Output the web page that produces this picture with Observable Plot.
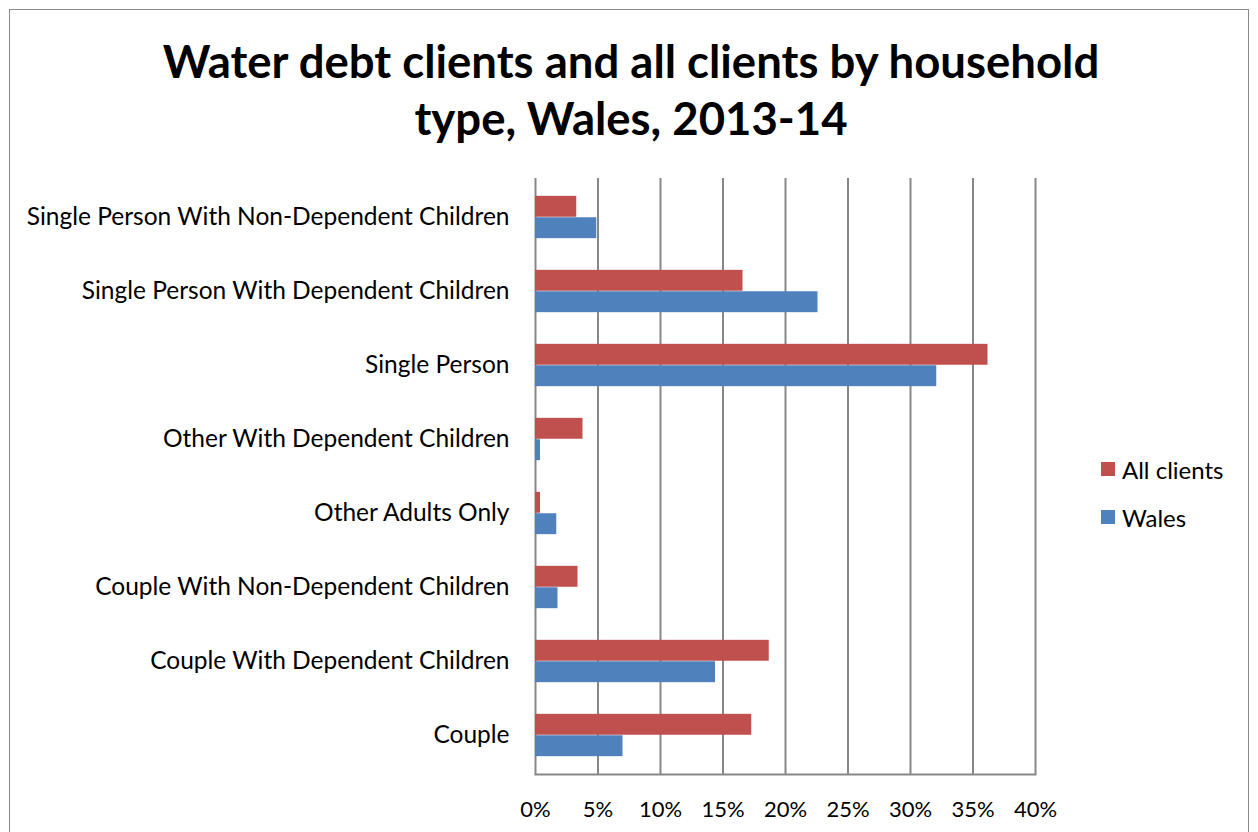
<!DOCTYPE html>
<html>
<head>
<meta charset="utf-8">
<script src="https://cdn.jsdelivr.net/npm/d3@7"></script>
<script src="https://cdn.jsdelivr.net/npm/@observablehq/plot@0.6"></script>
<style>
  html, body { margin: 0; padding: 0; background: #fff; }
  #wrap { position: relative; width: 1258px; height: 832px; overflow: hidden; font-family: Lato, "Open Sans", sans-serif; }
  #border { position: absolute; left: 9px; top: 9px; width: 1240px; height: 840px; border: 1.5px solid #8a8a8a; box-sizing: border-box; }
  #title { position: absolute; left: 0; width: 1262px; top: 32px; text-align: center; font-weight: bold; font-size: 45.5px; line-height: 57px; color: #000; }
  #chart { position: absolute; left: 0; top: 170px; }
  #legend { position: absolute; left: 1101px; top: 453px; font-size: 24px; color: #000; }
  .li { display: flex; align-items: center; height: 32px; margin-bottom: 16px; }
  .sw { width: 14px; height: 14px; margin-right: 7px; }
</style>
</head>
<body>
<div id="wrap">
  <div id="border"></div>
  <div id="title">Water debt clients and all clients by household<br>type, Wales, 2013-14</div>
  <div id="chart"></div>
  <div id="legend"></div>
</div>
<script>
const categories = [
  "Single Person With Non-Dependent Children",
  "Single Person With Dependent Children",
  "Single Person",
  "Other With Dependent Children",
  "Other Adults Only",
  "Couple With Non-Dependent Children",
  "Couple With Dependent Children",
  "Couple"
];
const allClients = [3.3, 16.6, 36.2, 3.8, 0.4, 3.4, 18.7, 17.3];
const wales = [4.9, 22.6, 32.1, 0.4, 1.7, 1.8, 14.4, 7.0];
const seriesNames = ["All clients", "Wales"];
const seriesColors = ["#C0504D", "#4F81BD"];
const xTicks = [0, 5, 10, 15, 20, 25, 30, 35, 40];

const allData = categories.map((c, i) => ({cat: c, value: allClients[i]}));
const walesData = categories.map((c, i) => ({cat: c, value: wales[i]}));

const H = 660, mTop = 8, mBottom = 56;
const step = (H - mTop - mBottom) / categories.length;
const barH = step * 0.2875;
const half = step / 2;

const chart = Plot.plot({
  width: 1258,
  height: H,
  marginLeft: 535,
  marginRight: 223,
  marginTop: mTop,
  marginBottom: mBottom,
  style: { fontFamily: "Lato, 'Open Sans', sans-serif", fontSize: "20px", color: "#000", background: "transparent" },
  x: { domain: [0, 40], ticks: xTicks, tickFormat: d => d + "%" },
  y: { domain: categories, padding: 0 },
  marks: [
    Plot.gridX(xTicks, { stroke: "#878787", strokeOpacity: 1, strokeWidth: 2 }),
    Plot.frame({ anchor: "bottom", stroke: "#878787", strokeWidth: 2 }),
    Plot.barX(allData, { y: "cat", x: "value", fill: seriesColors[0], insetTop: half - barH, insetBottom: half }),
    Plot.barX(walesData, { y: "cat", x: "value", fill: seriesColors[1], insetTop: half, insetBottom: half - barH }),
    Plot.axisX(xTicks, { tickSize: 0, tickPadding: 27, tickFormat: d => d + "%", fontSize: 22, label: null }),
    Plot.axisY({ tickSize: 0, tickPadding: 26, fontSize: 24.5, label: null })
  ]
});
document.getElementById("chart").appendChild(chart);

const legend = document.getElementById("legend");
seriesNames.forEach((n, i) => {
  const row = document.createElement("div");
  row.className = "li";
  row.innerHTML = `<div class="sw" style="background:${seriesColors[i]}"></div><span>${n}</span>`;
  legend.appendChild(row);
});
</script>
</body>
</html>
